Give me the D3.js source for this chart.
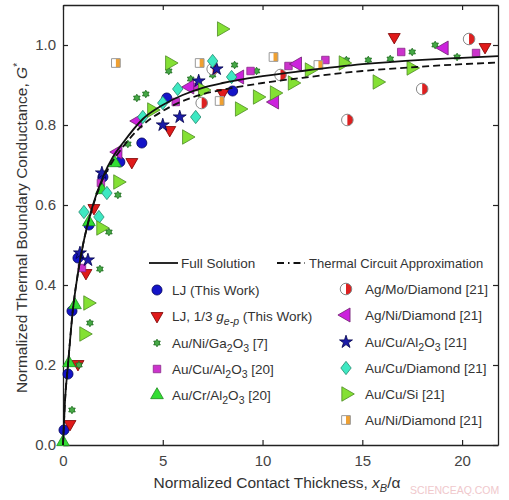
<!DOCTYPE html>
<html>
<head>
<meta charset="utf-8">
<script src="https://cdn.jsdelivr.net/npm/d3@7"></script>
<style>
  body { margin: 0; background: #fff; }
  text { font-family: "Liberation Sans", Arial, sans-serif; }
</style>
</head>
<body>
<div id="container"></div>
<script>
const w = 509;
const h = 500;

// data: [x_B/alpha, G*]
const ljThisWork = [[0.05, 0.0375], [0.25, 0.1775], [0.45, 0.335], [0.75, 0.4675], [1.3, 0.55], [2.0, 0.67], [2.85, 0.7075], [3.95, 0.755], [5.2, 0.8675], [8.5, 0.885]];
const ljThird = [[0.35, 0.0525], [0.75, 0.2025], [1.15, 0.43], [1.55, 0.5925], [3.45, 0.7075], [5.35, 0.7875], [8.0, 0.88], [16.6, 1.02], [21.15, 0.995]];
const auNiGa2O3 = [[0.45, 0.0875], [0.8, 0.2], [1.35, 0.305], [1.85, 0.44], [2.3, 0.5325], [2.75, 0.625], [3.25, 0.7525], [3.7, 0.8675], [4.15, 0.8775], [5.3, 0.935], [6.4, 0.915], [7.5, 0.925], [8.6, 0.95], [9.7, 0.935], [14.2, 0.9625], [15.3, 0.9625], [16.4, 0.965], [17.5, 0.9825], [18.65, 1.0], [19.75, 0.97]];
const auCuAl2O3_20 = [[0.95, 0.4425], [1.9, 0.655], [5.65, 0.8575], [6.7, 0.895], [9.4, 0.935], [11.3, 0.9475], [13.15, 0.9625], [16.95, 0.9825], [20.7, 0.98]];
const auCrAl2O3 = [[0.0, 0.0075], [0.3, 0.205], [0.6, 0.35], [1.3, 0.5575], [1.95, 0.6375], [2.6, 0.705]];
const agMoDiamond = [[6.95, 0.855], [7.5, 0.94], [10.9, 0.925], [14.25, 0.8125], [18.0, 0.89], [20.35, 1.015]];
const agNiDiamond = [[2.75, 0.7325], [3.75, 0.81], [6.35, 0.895], [8.85, 0.92], [10.6, 0.8575], [11.75, 0.9525], [19.1, 0.9925]];
const auCuAl2O3_21 = [[0.85, 0.48], [1.25, 0.4625], [1.95, 0.68], [5.0, 0.8], [5.85, 0.82], [6.8, 0.91], [7.7, 0.94]];
const auCuDiamond = [[1.05, 0.5825], [1.8, 0.57], [2.2, 0.63], [4.0, 0.82], [5.0, 0.855], [5.75, 0.89], [6.65, 0.82], [7.5, 0.96], [8.45, 0.92]];
const auCuSi = [[1.05, 0.2775], [1.25, 0.355], [1.9, 0.5425], [2.75, 0.6575], [4.45, 0.8375], [5.35, 0.955], [6.2, 0.77], [7.0, 0.8875], [7.95, 1.04], [8.85, 0.84], [9.75, 0.87], [10.6, 0.88], [11.5, 0.905], [12.35, 0.9375], [14.05, 0.955], [15.75, 0.9075], [17.45, 0.9425]];
const auNiDiamond = [[2.65, 0.955], [6.85, 0.955], [7.85, 0.86], [10.55, 0.97], [12.8, 0.95]];

// model curves
const curveX = [0, 0.1, 0.25, 0.5, 0.75, 1.0, 1.25, 1.5, 2, 2.5, 3, 4, 5, 6, 7, 8, 10, 12, 15, 18, 20, 21.8];
const fullSolution = [0, 0.11, 0.2, 0.34, 0.43, 0.5, 0.555, 0.6, 0.67, 0.72, 0.755, 0.815, 0.85, 0.875, 0.893, 0.905, 0.922, 0.935, 0.952, 0.963, 0.968, 0.972];
const circuitApprox = [0, 0.11, 0.2, 0.34, 0.43, 0.5, 0.553, 0.597, 0.665, 0.71, 0.745, 0.8, 0.835, 0.86, 0.877, 0.888, 0.905, 0.918, 0.935, 0.946, 0.952, 0.956];

const xTicks = [0, 5, 10, 15, 20];
const yTicks = [0, 0.2, 0.4, 0.6, 0.8, 1.0];

const svg = d3.select('#container')
  .append('svg')
    .attr('width', w)
    .attr('height', h)
    .attr('viewBox', [0, 0, w, h]);

const x = d3.scaleLinear().domain([0, 21.8]).range([63, 498]);
const y = d3.scaleLinear().domain([0, 1.1]).range([445, 5]);

// custom symbol shapes
const hexagram = {
  draw(ctx, size) {
    const r = Math.sqrt(size) * 0.62;
    const ri = r / Math.sqrt(3);
    for (let i = 0; i < 12; i++) {
      const a = -Math.PI / 2 + i * Math.PI / 6;
      const rr = i % 2 === 0 ? r : ri;
      if (i === 0) ctx.moveTo(rr * Math.cos(a), rr * Math.sin(a));
      else ctx.lineTo(rr * Math.cos(a), rr * Math.sin(a));
    }
    ctx.closePath();
  }
};
const halfCircle = {
  draw(ctx, size) {
    const r = Math.sqrt(size / Math.PI);
    ctx.moveTo(0, -r);
    ctx.arc(0, 0, r, -Math.PI / 2, Math.PI / 2);
    ctx.closePath();
  }
};
const halfSquare = {
  draw(ctx, size) {
    const s = Math.sqrt(size) / 2;
    ctx.moveTo(0, -s);
    ctx.lineTo(s, -s);
    ctx.lineTo(s, s);
    ctx.lineTo(0, s);
    ctx.closePath();
  }
};
const wideDiamond = {
  draw(ctx, size) {
    const hh = Math.sqrt(size) * 0.82;
    const ww = hh * 0.78;
    ctx.moveTo(0, -hh);
    ctx.lineTo(ww, 0);
    ctx.lineTo(0, hh);
    ctx.lineTo(-ww, 0);
    ctx.closePath();
  }
};

const series = [
  { data: ljThisWork, type: d3.symbolCircle, size: 80, rot: 0, fill: '#1414c8', stroke: '#00005a' },
  { data: ljThird, type: d3.symbolTriangle, size: 62, rot: 180, fill: '#e01a1a', stroke: '#7a0000' },
  { data: auNiGa2O3, type: hexagram, size: 38, rot: 0, fill: '#45a845', stroke: '#1d6b1d' },
  { data: auCuAl2O3_20, type: d3.symbolSquare, size: 56, rot: 0, fill: '#cc33cc', stroke: '#8a2a8a' },
  { data: auCrAl2O3, type: d3.symbolTriangle, size: 70, rot: 0, fill: '#33dd33', stroke: '#1e8a1e' },
  { data: agMoDiamond, type: 'half', shape: d3.symbolCircle, half: halfCircle, size: 105, fill: '#dd2020', stroke: '#888' },
  { data: agNiDiamond, type: d3.symbolTriangle, size: 85, rot: -90, fill: '#cc22dd', stroke: '#6e226e' },
  { data: auCuAl2O3_21, type: d3.symbolStar, size: 52, rot: 0, fill: '#1c1ca8', stroke: '#00004a' },
  { data: auCuDiamond, type: wideDiamond, size: 66, rot: 0, fill: '#3ee8c2', stroke: '#2a8a70' },
  { data: auCuSi, type: d3.symbolTriangle, size: 90, rot: 90, fill: '#84e034', stroke: '#4e8a26' },
  { data: auNiDiamond, type: 'half', shape: d3.symbolSquare, half: halfSquare, size: 76, fill: '#f0a030', stroke: '#999' }
];

function drawMarker(g, s, cx, cy) {
  const m = g.append('g').attr('transform', 'translate(' + cx + ',' + cy + ')');
  if (s.type === 'half') {
    m.append('path')
      .attr('d', d3.symbol().type(s.shape).size(s.size)())
      .attr('fill', '#fff');
    m.append('path')
      .attr('d', d3.symbol().type(s.half).size(s.size)())
      .attr('fill', s.fill);
    m.append('path')
      .attr('d', d3.symbol().type(s.shape).size(s.size)())
      .attr('fill', 'none')
      .attr('stroke', s.stroke)
      .attr('stroke-width', 1);
  } else {
    m.append('path')
      .attr('d', d3.symbol().type(s.type).size(s.size)())
      .attr('transform', 'rotate(' + s.rot + ')')
      .attr('fill', s.fill)
      .attr('stroke', s.stroke)
      .attr('stroke-width', 0.8);
  }
}

// axes with inward ticks on all four sides
const tickColor = '#444';
const axBottom = svg.append('g')
  .attr('transform', 'translate(0,' + y(0) + ')')
  .call(d3.axisBottom(x).tickValues(xTicks).tickSizeInner(-5).tickSizeOuter(0).tickPadding(10).tickFormat(d3.format('d')));
const axTop = svg.append('g')
  .attr('transform', 'translate(0,' + y(1.1) + ')')
  .call(d3.axisTop(x).tickValues(xTicks).tickSizeInner(-5).tickSizeOuter(0).tickFormat(''));
const axLeft = svg.append('g')
  .attr('transform', 'translate(' + x(0) + ',0)')
  .call(d3.axisLeft(y).tickValues(yTicks).tickSizeInner(-5).tickSizeOuter(0).tickPadding(7).tickFormat(d3.format('.1f')));
const axRight = svg.append('g')
  .attr('transform', 'translate(' + x(21.8) + ',0)')
  .call(d3.axisRight(y).tickValues(yTicks).tickSizeInner(-5).tickSizeOuter(0).tickFormat(''));

[axBottom, axTop, axLeft, axRight].forEach(a => {
  a.select('.domain').attr('stroke', '#222').attr('stroke-width', 1.3);
  a.selectAll('.tick line').attr('stroke', '#222').attr('stroke-width', 1.2);
  a.selectAll('.tick text')
    .attr('fill', tickColor)
    .style('font-size', '15px')
    .style('font-family', '"Liberation Sans", Arial, sans-serif');
});

// data markers
const marks = svg.append('g');
series.forEach(s => {
  s.data.forEach(d => drawMarker(marks, s, x(d[0]), y(d[1])));
});

// curves
const line = d3.line()
  .x(d => x(d[0]))
  .y(d => y(d[1]))
  .curve(d3.curveMonotoneX);

svg.append('path')
  .attr('d', line(curveX.map((v, i) => [v, circuitApprox[i]])))
  .attr('fill', 'none')
  .attr('stroke', '#111')
  .attr('stroke-width', 1.8)
  .attr('stroke-dasharray', '7,4');

svg.append('path')
  .attr('d', line(curveX.map((v, i) => [v, fullSolution[i]])))
  .attr('fill', 'none')
  .attr('stroke', '#111')
  .attr('stroke-width', 1.8);

// axis titles
const xTitle = svg.append('text')
  .attr('x', 277)
  .attr('y', 488)
  .attr('text-anchor', 'middle')
  .attr('fill', '#333')
  .style('font-size', '15.5px');
xTitle.append('tspan').text('Normalized Contact Thickness, ');
xTitle.append('tspan').style('font-style', 'italic').text('x');
xTitle.append('tspan').style('font-style', 'italic').style('font-size', '11px').attr('dy', 4).text('B');
xTitle.append('tspan').attr('dy', -4).text('/\u03b1');

const yTitle = svg.append('text')
  .attr('transform', 'translate(27,228) rotate(-90)')
  .attr('text-anchor', 'middle')
  .attr('fill', '#333')
  .style('font-size', '15.5px');
yTitle.append('tspan').text('Normalized Thermal Boundary Conductance, ');
yTitle.append('tspan').style('font-style', 'italic').text('G');
yTitle.append('tspan').style('font-size', '10px').attr('dy', -6).text('*');

// legend
const legend = svg.append('g').attr('id', 'legend');
const legendFont = '13.5px';

legend.append('line')
  .attr('x1', 149).attr('x2', 178).attr('y1', 263).attr('y2', 263)
  .attr('stroke', '#111').attr('stroke-width', 1.8);
legend.append('text')
  .attr('x', 181).attr('y', 268)
  .attr('fill', '#333').style('font-size', legendFont)
  .text('Full Solution');
legend.append('line')
  .attr('x1', 277).attr('x2', 305).attr('y1', 263).attr('y2', 263)
  .attr('stroke', '#111').attr('stroke-width', 1.8)
  .attr('stroke-dasharray', '7,4,1.5,4');
legend.append('text')
  .attr('x', 309).attr('y', 268)
  .attr('fill', '#333').style('font-size', '13px')
  .text('Thermal Circuit Approximation');

// label parts: [text, style] where style: '' normal, 'sub', 'i', 'isub'
const leftLabels = [
  [['LJ (This Work)', '']],
  [['LJ, 1/3 ', ''], ['g', 'i'], ['e-p', 'isub'], [' (This Work)', '']],
  [['Au/Ni/Ga', ''], ['2', 'sub'], ['O', ''], ['3', 'sub'], [' [7]', '']],
  [['Au/Cu/Al', ''], ['2', 'sub'], ['O', ''], ['3', 'sub'], [' [20]', '']],
  [['Au/Cr/Al', ''], ['2', 'sub'], ['O', ''], ['3', 'sub'], [' [20]', '']]
];
const rightLabels = [
  [['Ag/Mo/Diamond  [21]', '']],
  [['Ag/Ni/Diamond  [21]', '']],
  [['Au/Cu/Al', ''], ['2', 'sub'], ['O', ''], ['3', 'sub'], [' [21]', '']],
  [['Au/Cu/Diamond [21]', '']],
  [['Au/Cu/Si  [21]', '']],
  [['Au/Ni/Diamond [21]', '']]
];
const leftRows = [290, 316, 343, 369, 395];
const rightRows = [289, 315, 342, 368, 394, 420];

function writeLabel(tx, ty, parts) {
  const t = legend.append('text')
    .attr('x', tx).attr('y', ty + 5)
    .attr('fill', '#333').style('font-size', legendFont);
  let shifted = false;
  parts.forEach(p => {
    const sp = t.append('tspan').text(p[0]);
    const isSub = p[1] === 'sub' || p[1] === 'isub';
    if (isSub && !shifted) { sp.attr('dy', 4); shifted = true; }
    if (!isSub && shifted) { sp.attr('dy', -4); shifted = false; }
    if (isSub) sp.style('font-size', '10.5px');
    if (p[1] === 'i' || p[1] === 'isub') sp.style('font-style', 'italic');
  });
}

series.slice(0, 5).forEach((s, i) => {
  drawMarker(legend, s, 157, leftRows[i]);
  writeLabel(172, leftRows[i], leftLabels[i]);
});
series.slice(5).forEach((s, i) => {
  drawMarker(legend, s, 346, rightRows[i]);
  writeLabel(365, rightRows[i], rightLabels[i]);
});

// watermark
svg.append('text')
  .attr('x', 410).attr('y', 494)
  .attr('fill', '#f0c8cc')
  .style('font-size', '10.5px')
  .text('SCIENCEAQ.COM');
</script>
</body>
</html>
